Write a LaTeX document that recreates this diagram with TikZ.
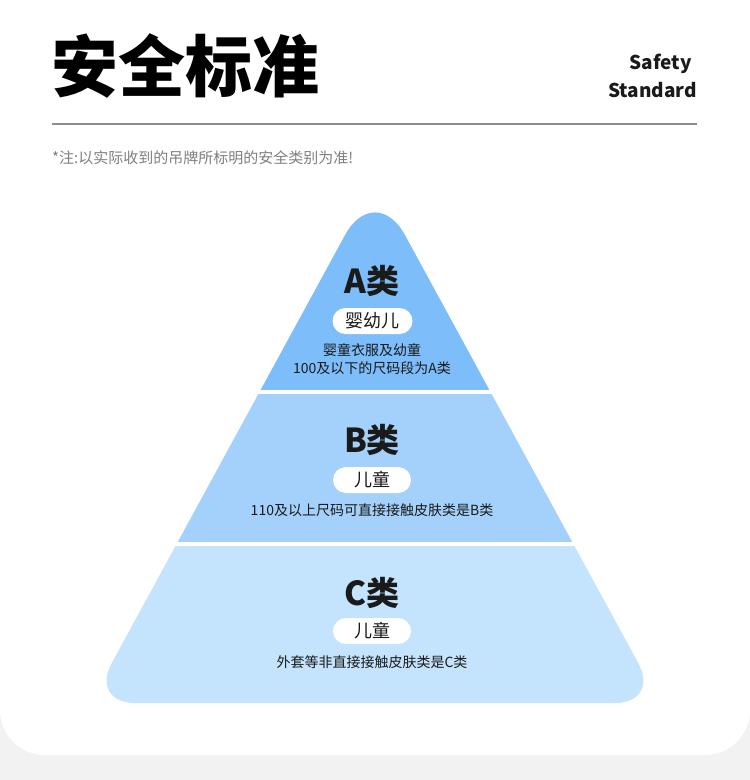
\documentclass[tikz,border=0pt]{standalone}
\usepackage{fontspec}
\setmainfont{Noto Sans CJK SC}
\definecolor{bggray}{HTML}{F2F2F2}
\definecolor{tierA}{HTML}{7CBDFA}
\definecolor{tierB}{HTML}{A3D1FB}
\definecolor{tierC}{HTML}{C4E3FD}
\definecolor{ink}{HTML}{1A1A1A}
\definecolor{notegray}{HTML}{7F7F7F}
\definecolor{rulegray}{HTML}{8C8C8C}
\tikzset{
  grade/.style={text=ink, font=\fontsize{33}{33}\selectfont\bfseries, inner sep=0pt},
  pill/.style={fill=white, rounded corners=13pt, minimum width=78pt, minimum height=26pt,
    inner sep=0pt, text=ink, font=\fontsize{18}{18}\selectfont},
  desc/.style={text=ink, font=\fontsize{14}{14}\selectfont, inner sep=0pt},
}
\def\tri{(135,703) -- (615,703) .. controls (639.9,703) and (650.4,685.3) .. (638.5,663.5)
  -- (405.1,235.3) .. controls (388.5,204.8) and (361.5,204.8) .. (344.9,235.3)
  -- (111.5,663.5) .. controls (99.6,685.3) and (110.1,703) .. (135,703) -- cycle}
\begin{document}
\begin{tikzpicture}[x=1pt,y=-1pt]
\useasboundingbox (0,0) rectangle (750,780);
% background and card
\fill[bggray] (0,0) rectangle (750,780);
\fill[white] (0,0) rectangle (750,710);
\fill[white, rounded corners=45pt] (0,0) rectangle (750,755);
% header
\node[anchor=west, text=black, inner sep=0pt, font=\fontsize{67}{67}\selectfont\bfseries] (title) at (51,66) {安全标准};
\node[anchor=east, text=ink, inner sep=0pt, font=\fontsize{19}{19}\selectfont\bfseries] (safety) at (692,64) {Safety};
\node[anchor=east, text=ink, inner sep=0pt, font=\fontsize{19}{19}\selectfont\bfseries] (standard) at (697,90) {Standard};
\draw[rulegray, line width=1.5pt] (52,124) -- (697,124);
\node[anchor=west, text=notegray, inner sep=0pt, font=\fontsize{15}{15}\selectfont] (note) at (52,158) {*注:以实际收到的吊牌所标明的安全类别为准!};
% pyramid tiers
\begin{scope}\clip (0,0) rectangle (750,389); \fill[tierA] \tri; \end{scope}
\begin{scope}\clip (0,394) rectangle (750,541); \fill[tierB] \tri; \end{scope}
\begin{scope}\clip (0,546) rectangle (750,780); \fill[tierC] \tri; \end{scope}
% tier A
\node[grade] (ga) at (372,281) {A类};
\node[pill, minimum width=80pt] (pa) at (372.5,321) {婴幼儿};
\node[desc] (da1) at (372,350) {婴童衣服及幼童};
\node[desc] (da2) at (372,368) {100及以下的尺码段为A类};
% tier B
\node[grade] (gb) at (372,440) {B类};
\node[pill] (pb) at (372,480) {儿童};
\node[desc] (db) at (372,510) {110及以上尺码可直接接触皮肤类是B类};
% tier C
\node[grade] (gc) at (372,593) {C类};
\node[pill] (pc) at (372,631) {儿童};
\node[desc] (dc) at (372,662) {外套等非直接接触皮肤类是C类};
\end{tikzpicture}
\end{document}
